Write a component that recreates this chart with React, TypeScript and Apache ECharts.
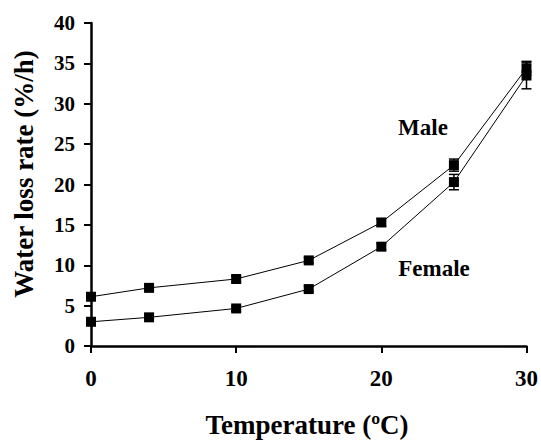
import React, { useEffect, useRef } from "react";
import * as echarts from "echarts";

const temperatures = [0, 4, 10, 15, 20, 25, 30];
const maleRate = [6.1, 7.2, 8.3, 10.6, 15.3, 22.4, 34.4];
const maleErr = [0.3, 0.3, 0.35, 0.35, 0.45, 0.75, 0.85];
const femaleRate = [3.0, 3.55, 4.65, 7.05, 12.3, 20.3, 33.5];
const femaleErr = [0.2, 0.25, 0.3, 0.35, 0.4, 0.95, 1.65];
const xTicks = [0, 10, 20, 30];
const yTicks = [0, 5, 10, 15, 20, 25, 30, 35, 40];

const FONT = '"Liberation Serif", "Times New Roman", serif';

function errData(vals: number[], errs: number[]) {
  return temperatures.map((t, i) => [t, vals[i] - errs[i], vals[i] + errs[i]]);
}

function errRender(params: any, api: any) {
  const x = api.value(0);
  const lo = api.coord([x, api.value(1)]);
  const hi = api.coord([x, api.value(2)]);
  const w = 5;
  const style = { stroke: "#000", lineWidth: 1.5 };
  return {
    type: "group",
    children: [
      { type: "line", shape: { x1: lo[0], y1: lo[1], x2: hi[0], y2: hi[1] }, style },
      { type: "line", shape: { x1: lo[0] - w, y1: lo[1], x2: lo[0] + w, y2: lo[1] }, style },
      { type: "line", shape: { x1: hi[0] - w, y1: hi[1], x2: hi[0] + w, y2: hi[1] }, style },
    ],
  };
}

export default function App() {
  const ref = useRef<HTMLDivElement>(null);
  useEffect(() => {
    if (!ref.current) return;
    const chart = echarts.init(ref.current, null, { renderer: "svg" });
    const lineSeries = (name: string, vals: number[]) => ({
      name,
      type: "line",
      data: temperatures.map((t, i) => [t, vals[i]]),
      symbol: "rect",
      symbolSize: 10,
      itemStyle: { color: "#000" },
      lineStyle: { color: "#000", width: 1 },
      z: 3,
    });
    const textStyle = (size: number) => ({
      fontSize: size,
      fontWeight: "bold",
      fontFamily: FONT,
      fill: "#000",
      align: "center",
      verticalAlign: "middle",
    });
    chart.setOption({
      animation: false,
      backgroundColor: "#fff",
      textStyle: { fontFamily: FONT },
      grid: { left: 91, right: 13, top: 23, bottom: 98 },
      xAxis: {
        type: "value",
        min: 0,
        max: 30,
        interval: 10,
        splitLine: { show: false },
        axisLine: { show: true, onZero: false, lineStyle: { color: "#000", width: 2.5 } },
        axisTick: { show: true, length: 7, lineStyle: { color: "#000", width: 2 } },
        axisLabel: {
          margin: 21,
          fontSize: 23,
          fontWeight: "bold",
          fontFamily: FONT,
          color: "#000",
          formatter: (v: number) => (xTicks.includes(v) ? String(v) : ""),
        },
      },
      yAxis: {
        type: "value",
        min: 0,
        max: 40,
        interval: 5,
        splitLine: { show: false },
        axisLine: { show: true, onZero: false, lineStyle: { color: "#000", width: 2.5 } },
        axisTick: { show: true, length: 7, lineStyle: { color: "#000", width: 2 } },
        axisLabel: {
          margin: 16,
          fontSize: 21,
          fontWeight: "bold",
          fontFamily: FONT,
          color: "#000",
          formatter: (v: number) => (yTicks.includes(v) ? String(v) : ""),
        },
      },
      series: [
        lineSeries("Male", maleRate),
        lineSeries("Female", femaleRate),
        {
          type: "custom",
          renderItem: errRender,
          data: errData(maleRate, maleErr),
          encode: { x: 0, y: [1, 2] },
          z: 4,
        },
        {
          type: "custom",
          renderItem: errRender,
          data: errData(femaleRate, femaleErr),
          encode: { x: 0, y: [1, 2] },
          z: 4,
        },
      ],
      graphic: [
        { type: "text", x: 423, y: 127, style: { text: "Male", ...textStyle(23) } },
        { type: "text", x: 434, y: 268, style: { text: "Female", ...textStyle(23) } },
        { type: "text", x: 307, y: 425, style: { text: "Temperature (ºC)", ...textStyle(27) } },
        {
          type: "text",
          x: 24,
          y: 174,
          rotation: Math.PI / 2,
          style: { text: "Water loss rate (%/h)", ...textStyle(27) },
        },
      ],
    });
    return () => chart.dispose();
  }, []);
  return <div ref={ref} style={{ position: "fixed", left: 0, top: 0, width: 541, height: 444 }} />;
}
